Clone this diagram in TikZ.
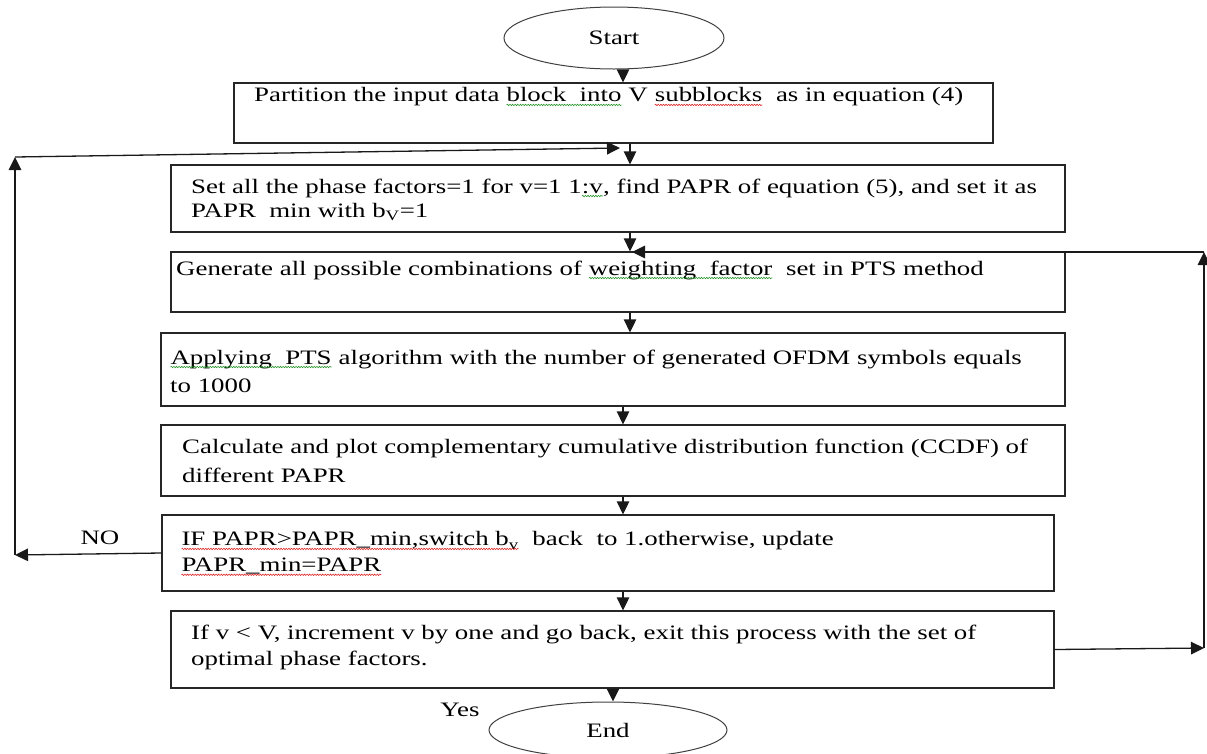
\documentclass[tikz,border=0pt]{standalone}
\usepackage{fontspec}
\setmainfont{Liberation Serif}[FakeStretch=1.31]
\usetikzlibrary{arrows.meta,shapes.geometric,decorations.pathmorphing}

\definecolor{spellgreen}{RGB}{40,150,40}
\definecolor{spellred}{RGB}{220,40,40}

% wavy proofing underline under a piece of text
\newcommand\squig[2]{\tikz[baseline=(sq.base)]{\node[inner sep=0pt,outer sep=0pt] (sq) {#2};\draw[#1,line width=0.6pt,decorate,decoration={snake,amplitude=0.7pt,segment length=2.6pt}] ([yshift=-3pt]sq.base west) -- ([yshift=-3pt]sq.base east);}}

\tikzset{
  box/.style={draw=black!85, line width=1.3pt, rectangle, inner sep=0pt},
  term/.style={draw=black!75, line width=1pt, ellipse, inner sep=0pt, font=\fontsize{20.5}{24}\selectfont},
  txt/.style={anchor=west, inner sep=0pt, font=\fontsize{20.5}{24}\selectfont},
  lbl/.style={inner sep=0pt, font=\fontsize{20.5}{24}\selectfont},
  arr/.style={draw=black!90, line width=1.3pt, -{Triangle[width=12.5pt,length=13pt]}},
}

\begin{document}
\begin{tikzpicture}[x=1pt,y=-1pt]
\useasboundingbox (0,0) rectangle (1207,753);

% terminals
\node[term, minimum width=220pt, minimum height=62pt] (start) at (614,38) {Start};
\node[term, minimum width=238pt, minimum height=56pt] (end) at (608,730) {End};

% process boxes
\node[box, minimum width=759pt, minimum height=60pt] (b1) at (613.5,113) {};
\node[box, minimum width=894pt, minimum height=67pt] (b2) at (618,198.5) {};
\node[box, minimum width=894pt, minimum height=60pt] (b3) at (618,282) {};
\node[box, minimum width=904pt, minimum height=73pt] (b4) at (613,369.5) {};
\node[box, minimum width=904pt, minimum height=71pt] (b5) at (613,460.5) {};
\node[box, minimum width=892pt, minimum height=76pt] (b6) at (608,553) {};
\node[box, minimum width=883pt, minimum height=77pt] (b7) at (612.5,649.5) {};

% box texts
\node[txt] (t1) at (254,97) {Partition the input data \squig{spellgreen}{block\ \ into} V \squig{spellred}{subblocks}\ \ as in equation (4)};
\node[txt] (t2a) at (191,188) {Set all the phase factors=1 for v=1 1\squig{spellgreen}{:v}, find PAPR of equation (5), and set it as};
\node[txt] (t2b) at (191,212) {PAPR\ \ min with b\textsubscript{V}=1};
\node[txt] (t3) at (176,270) {Generate all possible combinations of \squig{spellgreen}{weighting\ \ factor}\ \ set in PTS method};
\node[txt] (t4a) at (170,359) {\squig{spellgreen}{Applying\ \ PTS} algorithm with the number of generated OFDM symbols equals};
\node[txt] (t4b) at (170,386) {to 1000};
\node[txt] (t5a) at (182,448) {Calculate and plot complementary cumulative distribution function (CCDF) of};
\node[txt] (t5b) at (182,475) {different PAPR};
\node[txt] (t6a) at (181,541) {\squig{spellred}{IF PAPR>PAPR\_min,switch b\textsubscript{v}}\ \ back\ \ to 1.otherwise, update};
\node[txt] (t6b) at (181,567) {\squig{spellred}{PAPR\_min=PAPR}};
\node[txt] (t7a) at (191,634) {If v < V, increment v by one and go back, exit this process with the set of};
\node[txt] (t7b) at (191,660) {optimal phase factors.};

% branch labels
\node[lbl] (no) at (100,538) {NO};
\node[lbl] (yes) at (460,710) {Yes};

% connector columns and loop corners
\coordinate (xa) at (623,0);
\coordinate (xb) at (630,0);
\coordinate (xc) at (613,0);
\coordinate (L1) at (15,555);
\coordinate (L2) at (15,157);
\coordinate (L3) at (620,148);
\coordinate (R1) at (1204,648);
\coordinate (R2) at (1204,252);
\coordinate (R3) at (632,252);

% main flow
\draw[arr] (start.south -| xa) -- (b1.north -| xa);
\draw[arr] (b1.south -| xb) -- (b2.north -| xb);
\draw[arr] (b2.south -| xb) -- (b3.north -| xb);
\draw[arr] (b3.south -| xb) -- (b4.north -| xb);
\draw[arr] (b4.south -| xa) -- (b5.north -| xa);
\draw[arr] (b5.south -| xa) -- (b6.north -| xa);
\draw[arr] (b6.south -| xa) -- (b7.north -| xa);
\draw[arr] (b7.south -| xc) -- (end.north -| xc);

% NO loop back to the phase factor step
\draw[arr] (b6.west) -- (L1);
\draw[arr] (L1) -- (L2);
\draw[arr] (L2) -- (L3);

% loop back to the weighting factor step
\draw[arr] (b7.east) -- (R1);
\draw[arr] (R1) -- (R2);
\draw[arr] (R2) -- (R3);
\end{tikzpicture}
\end{document}
